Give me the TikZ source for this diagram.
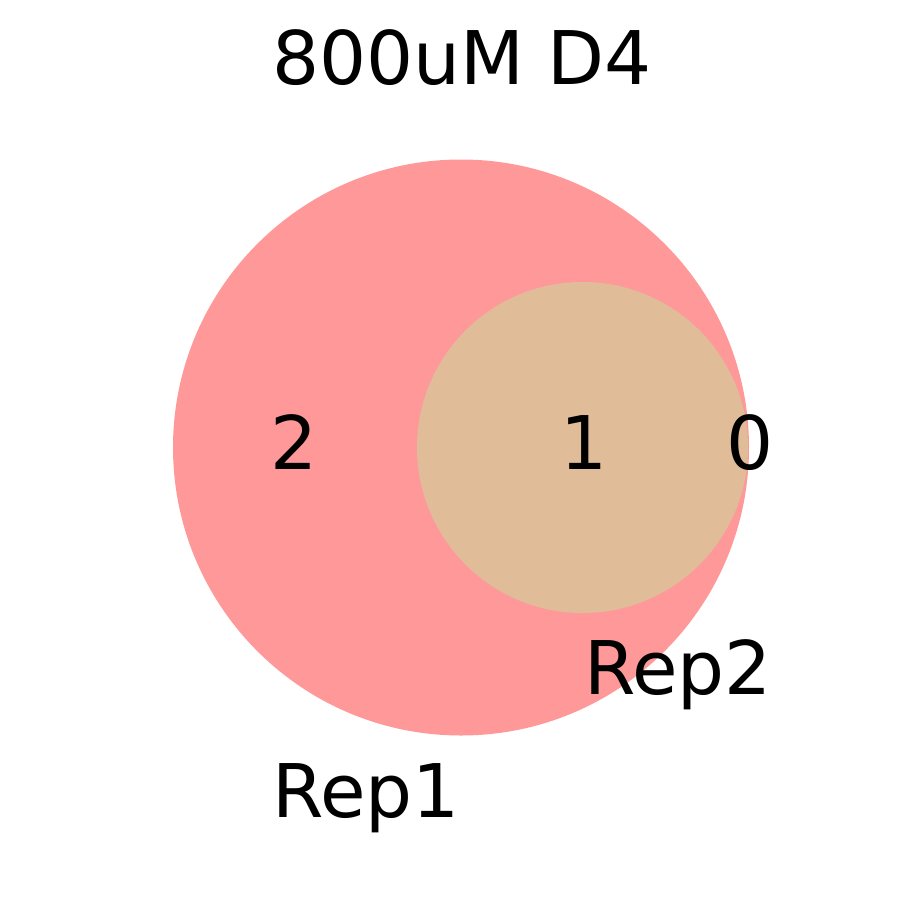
\documentclass[tikz,border=0pt]{standalone}
\usepackage{fontspec}
\setmainfont{DejaVu Sans}
\definecolor{setA}{RGB}{255,153,153}
\definecolor{setAB}{RGB}{224,188,153}
\tikzset{lbl/.style={inner sep=0pt, anchor=base, font=\fontsize{74}{78}\selectfont}}
\begin{document}
\begin{tikzpicture}[x=1pt,y=-1pt]
\useasboundingbox (0,0) rectangle (900,900);
\fill[setA] (461,447.5) circle (288);
\fill[setAB] (582.5,447.5) circle (165.5);
\node[lbl] (title) at (462,84) {800uM D4};
\node[lbl] (n2) at (294,469) {2};
\node[lbl] (n1) at (584,469) {1};
\node[lbl] (n0) at (750,469) {0};
\node[lbl] (rep2) at (678,694) {Rep2};
\node[lbl] (rep1) at (366,817) {Rep1};
\end{tikzpicture}
\end{document}
